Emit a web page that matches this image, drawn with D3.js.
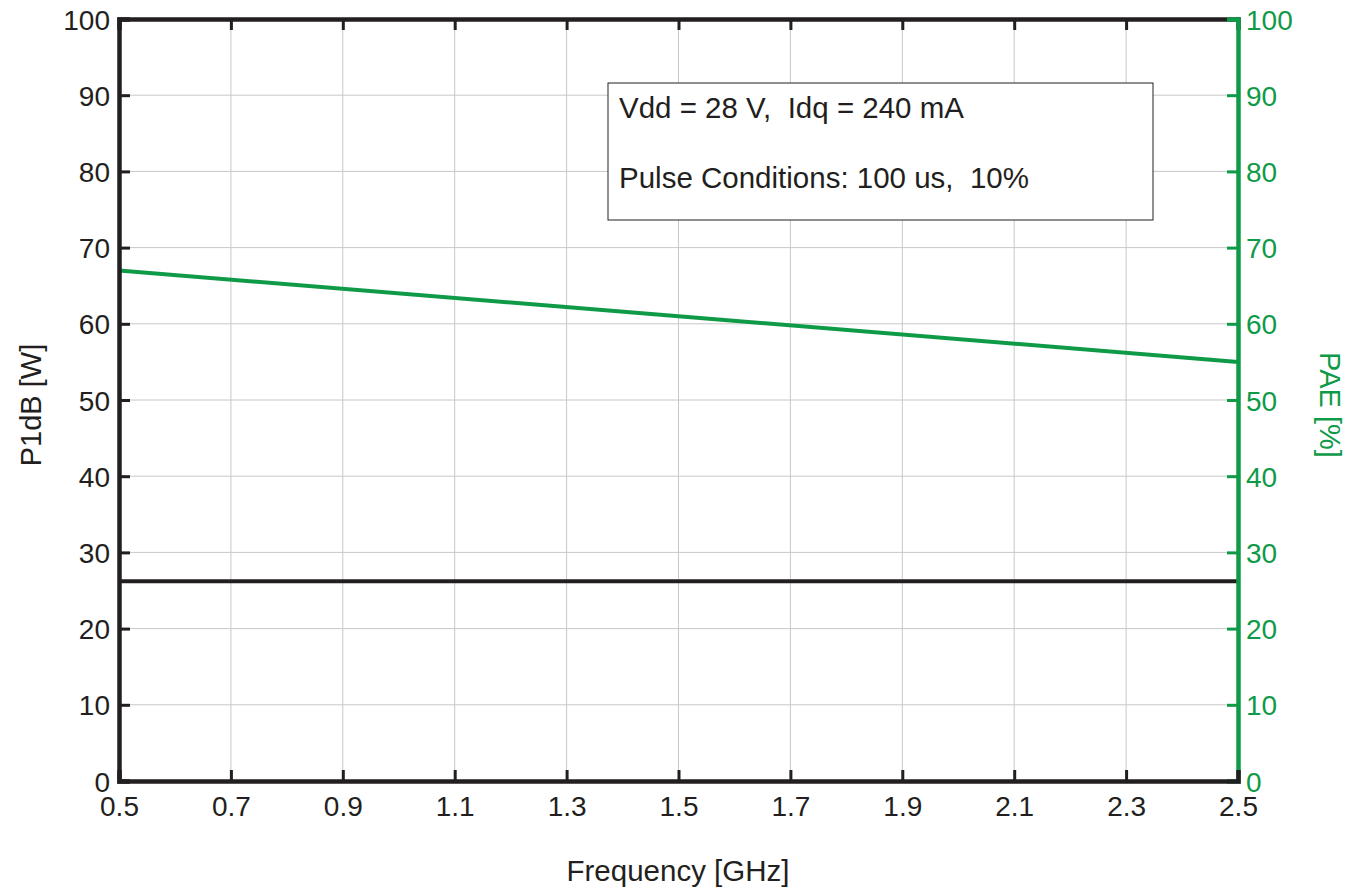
<!DOCTYPE html>
<html><head><meta charset="utf-8">
<script src="https://cdn.jsdelivr.net/npm/d3@7"></script>
<style>body{margin:0;background:#fff}svg{display:block}text{font-family:"Liberation Sans",Arial,sans-serif}</style>
</head><body>
<svg id="c" width="1363" height="890"></svg>
<script>
const xTicks = [0.5,0.7,0.9,1.1,1.3,1.5,1.7,1.9,2.1,2.3,2.5];
const yTicks = [0,10,20,30,40,50,60,70,80,90,100];
const freqP1dB = [0.5, 2.5];
const p1dB = [26.2, 26.2];
const freqPAE = [0.5, 1.5, 2.5];
const pae = [67, 61, 55];
const boxLines = ["Vdd = 28 V,  Idq = 240 mA", "Pulse Conditions: 100 us,  10%"];

const BLACK = "#231f20", GREEN = "#0f9a48", GRID = "#c8c8c8";
const L = 119, R = 1238, T = 19, B = 781;
const FS = 28;
const svg = d3.select("#c");
const x = d3.scaleLinear().domain([0.5, 2.5]).range([L, R]);
const yL = d3.scaleLinear().domain([0, 100]).range([B, T]);
const yR = d3.scaleLinear().domain([0, 100]).range([B, T]);

// grid
svg.append("g").selectAll("line").data(xTicks).join("line")
  .attr("x1", d => x(d)).attr("x2", d => x(d)).attr("y1", T).attr("y2", B)
  .attr("stroke", GRID).attr("stroke-width", 1);
svg.append("g").selectAll("line").data(yTicks).join("line")
  .attr("x1", L).attr("x2", R).attr("y1", d => yL(d)).attr("y2", d => yL(d))
  .attr("stroke", GRID).attr("stroke-width", 1);

// annotation box
const bx = 608, by = 83, bw = 545, bh = 137;
svg.append("rect").attr("x", bx).attr("y", by).attr("width", bw).attr("height", bh)
  .attr("fill", "#fff").attr("stroke", BLACK).attr("stroke-width", 1);
svg.append("text").attr("x", 619).attr("y", 118).attr("font-size", 29.5).attr("fill", BLACK).style("white-space","pre").text(boxLines[0]);
svg.append("text").attr("x", 619).attr("y", 188).attr("font-size", 29.5).attr("fill", BLACK).style("white-space","pre").text(boxLines[1]);

// data lines
const lineP = d3.line().x(d => x(d[0])).y(d => yL(d[1]));
svg.append("path").datum(freqP1dB.map((f, i) => [f, p1dB[i]]))
  .attr("d", lineP).attr("fill", "none").attr("stroke", BLACK).attr("stroke-width", 4);
const lineE = d3.line().x(d => x(d[0])).y(d => yR(d[1]));
svg.append("path").datum(freqPAE.map((f, i) => [f, pae[i]]))
  .attr("d", lineE).attr("fill", "none").attr("stroke", GREEN).attr("stroke-width", 4);

// axes
const fmtX = d3.format(".1f");
const gx = svg.append("g").attr("transform", `translate(0,${B})`)
  .call(d3.axisBottom(x).tickValues(xTicks).tickFormat(fmtX).tickSize(-11));
const gxt = svg.append("g").attr("transform", `translate(0,${T})`)
  .call(d3.axisTop(x).tickValues(xTicks).tickFormat("").tickSize(-11));
const gl = svg.append("g").attr("transform", `translate(${L},0)`)
  .call(d3.axisLeft(yL).tickValues(yTicks).tickSize(-11));
const gr = svg.append("g").attr("transform", `translate(${R},0)`)
  .call(d3.axisRight(yR).tickValues(yTicks).tickSize(-11));

[gx, gxt, gl].forEach(g => {
  g.select(".domain").attr("stroke", BLACK).attr("stroke-width", 4.5);
  g.selectAll(".tick line").attr("stroke", BLACK).attr("stroke-width", 3);
  g.selectAll(".tick text").attr("fill", BLACK).attr("font-size", FS).attr("font-family", "Liberation Sans, Arial, sans-serif");
});
gr.select(".domain").attr("stroke", GREEN).attr("stroke-width", 4.5);
gr.selectAll(".tick line").attr("stroke", GREEN).attr("stroke-width", 3);
gr.selectAll(".tick text").attr("fill", GREEN).attr("font-size", FS).attr("font-family", "Liberation Sans, Arial, sans-serif");
gl.selectAll(".tick text").attr("x", -9).attr("dy", "0.36em");
gr.selectAll(".tick text").attr("x", 8).attr("dy", "0.36em");
gx.selectAll(".tick text").attr("y", 15).attr("dy", "0.71em");
gx.raise();

// axis titles
svg.append("text").attr("x", 678).attr("y", 881).attr("text-anchor", "middle")
  .attr("font-size", 29.5).attr("fill", BLACK).text("Frequency [GHz]");
svg.append("text").attr("transform", "translate(41,405) rotate(-90)").attr("text-anchor", "middle")
  .attr("font-size", 29).attr("fill", BLACK).text("P1dB [W]");
svg.append("text").attr("transform", "translate(1320,405) rotate(90)").attr("text-anchor", "middle")
  .attr("font-size", 29).attr("fill", GREEN).text("PAE [%]");
</script>
</body></html>
